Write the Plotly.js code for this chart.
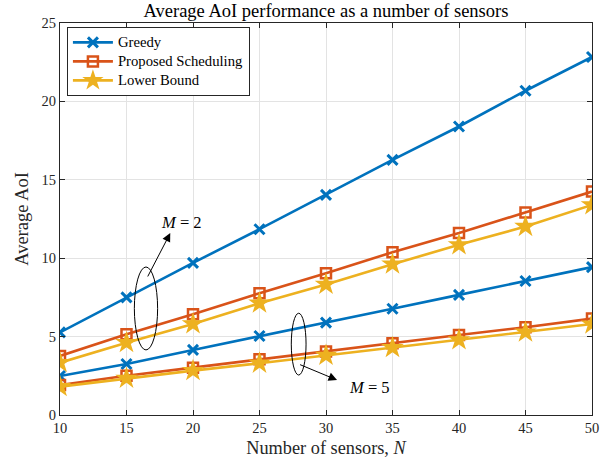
<!DOCTYPE html>
<html>
<head>
<meta charset="utf-8">
<script src="https://cdn.plot.ly/plotly-3.0.1.min.js"></script>
<style>html,body{margin:0;padding:0;background:#fff;}#chart{width:611px;height:464px;}</style>
</head>
<body>
<div id="chart"></div>
<script>
const sensors = [10, 15, 20, 25, 30, 35, 40, 45, 50];
const greedyM2 = [5.27, 7.5, 9.7, 11.85, 14.04, 16.27, 18.4, 20.68, 22.83];
const proposedM2 = [3.77, 5.15, 6.42, 7.77, 9.04, 10.38, 11.6, 12.91, 14.25];
const lowerM2 = [3.34, 4.61, 5.81, 7.13, 8.33, 9.62, 10.85, 12.02, 13.4];
const greedyM5 = [2.49, 3.25, 4.15, 5.04, 5.89, 6.78, 7.66, 8.55, 9.43];
const proposedM5 = [1.91, 2.5, 3.02, 3.55, 4.05, 4.57, 5.1, 5.6, 6.15];
const lowerM5 = [1.81, 2.34, 2.83, 3.3, 3.8, 4.3, 4.79, 5.28, 5.8];
const seriesNames = ['Greedy', 'Proposed Scheduling', 'Lower Bound'];
const xTicks = [10, 15, 20, 25, 30, 35, 40, 45, 50];
const yTicks = [0, 5, 10, 15, 20, 25];

const colors = ['#0072BD', '#D95319', '#EDB120'];
const markers = [
  {symbol: 'x-thin-open', size: 10, line: {width: 3, color: colors[0]}, color: colors[0]},
  {symbol: 'square-open', size: 10, line: {width: 2.5, color: colors[1]}, color: colors[1]},
  {symbol: 'star', size: 17, line: {width: 0}, color: colors[2]}
];
const FONT = 'Liberation Serif, Times New Roman, serif';

function tr(y, i, show) {
  return {x: sensors, y: y, type: 'scatter', mode: 'lines+markers',
    name: '<span style="font-size:14.7px">' + seriesNames[i] + '</span>',
    showlegend: show, line: {color: colors[i], width: 2.6}, marker: markers[i]};
}
const data = [
  tr(greedyM2, 0, true), tr(proposedM2, 1, true), tr(lowerM2, 2, true),
  tr(greedyM5, 0, false), tr(proposedM5, 1, false), tr(lowerM5, 2, false)
];

const axisCommon = {
  showline: true, linecolor: '#262626', linewidth: 1, mirror: 'ticks',
  ticks: 'inside', ticklen: 5, tickcolor: '#262626', tickwidth: 1,
  showgrid: true, gridcolor: '#e3e3e3', gridwidth: 1, zeroline: false,
  tickfont: {family: FONT, size: 14.5, color: '#262626'}
};

const layout = {
  width: 611, height: 464,
  margin: {l: 60, r: 19, t: 23, b: 49},
  paper_bgcolor: '#ffffff', plot_bgcolor: '#ffffff',
  font: {family: FONT, color: '#000'},
  title: {text: 'Average AoI performance as a number of sensors', font: {family: FONT, size: 18.5, color: '#000'}, xref: 'paper', x: 0.5, xanchor: 'center', y: 0.992, yanchor: 'top'},
  xaxis: Object.assign({}, axisCommon, {range: [10, 50], tickvals: xTicks, ticktext: xTicks.map(String),
    title: {text: 'Number of sensors, <i>N</i>', font: {family: FONT, size: 18.3, color: '#262626'}, standoff: 5}}),
  yaxis: Object.assign({}, axisCommon, {range: [0, 25], tickvals: yTicks, ticktext: yTicks.map(String),
    title: {text: 'Average AoI', font: {family: FONT, size: 18.5, color: '#262626'}, standoff: 8}}),
  legend: {x: 0.013, y: 0.99, xanchor: 'left', yanchor: 'top', bgcolor: '#ffffff',
    bordercolor: '#262626', borderwidth: 1, font: {family: FONT, size: 11, color: '#000'},
    tracegroupgap: 0, itemwidth: 40},
  shapes: [
    {type: 'circle', xref: 'x', yref: 'y', x0: 15.59, x1: 17.34, y0: 4.15, y1: 9.44, line: {color: '#000', width: 1}},
    {type: 'circle', xref: 'x', yref: 'y', x0: 27.39, x1: 28.5, y0: 2.55, y1: 6.49, line: {color: '#000', width: 1}}
  ],
  annotations: [
    {x: 18.29, y: 11.6, ax: 16.54, ay: 8.74, xref: 'x', yref: 'y', axref: 'x', ayref: 'y', text: '', showarrow: true, arrowhead: 2, arrowsize: 1.7, arrowwidth: 1, arrowcolor: '#000'},
    {x: 30.83, y: 2.23, ax: 27.94, ay: 3.25, xref: 'x', yref: 'y', axref: 'x', ayref: 'y', text: '', showarrow: true, arrowhead: 2, arrowsize: 1.7, arrowwidth: 1, arrowcolor: '#000'},
    {x: 19.1, y: 12.3, xref: 'x', yref: 'y', text: '<i>M</i> = 2', showarrow: false, font: {family: FONT, size: 16.5, color: '#000'}},
    {x: 33.3, y: 1.78, xref: 'x', yref: 'y', text: '<i>M</i> = 5', showarrow: false, font: {family: FONT, size: 16.5, color: '#000'}}
  ]
};

Plotly.newPlot('chart', data, layout, {displayModeBar: false, staticPlot: true});
</script>
</body>
</html>
